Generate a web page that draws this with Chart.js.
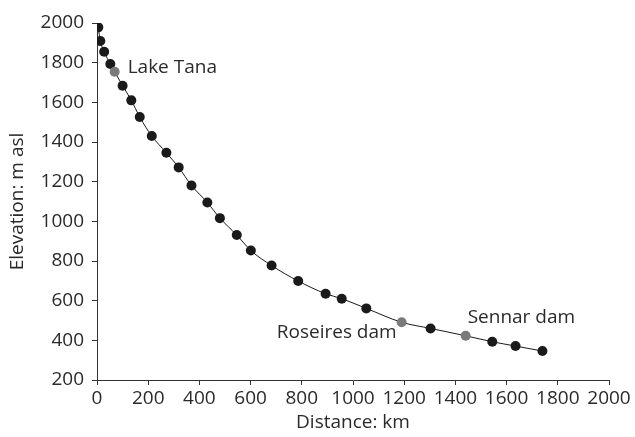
<!DOCTYPE html>
<html>
<head>
<meta charset="utf-8">
<script src="https://cdn.jsdelivr.net/npm/chart.js@4"></script>
<style>
    html, body { margin: 0; padding: 0; background: #fff; }
    #wrap { width: 635px; height: 437px; }
</style>
</head>
<body>
<div id="wrap"><canvas id="myChart"></canvas></div>
<script>
// distance along the river (km) and elevation (m asl)
const distance = [5, 13, 28, 52, 69, 100, 134, 167, 214, 271, 319, 369, 431, 480, 546, 601, 682, 786, 893, 956, 1052, 1190, 1303, 1440, 1544, 1635, 1740];
const elevation = [1978, 1909, 1855, 1793, 1754, 1684, 1610, 1526, 1430, 1346, 1272, 1181, 1095, 1016, 931, 853, 777, 699, 635, 610, 561, 491, 460, 423, 393, 371, 346];

// named points (shown grey) and their labels
const placeIndex = [4, 21, 23];
const placeNames = ['Lake Tana', 'Roseires dam', 'Sennar dam'];

const xTicks = [0, 200, 400, 600, 800, 1000, 1200, 1400, 1600, 1800, 2000];
const yTicks = [200, 400, 600, 800, 1000, 1200, 1400, 1600, 1800, 2000];

const textColor = '#2a2a2a';
const fontFamily = '"Open Sans", "DejaVu Sans", sans-serif';
const fontSize = 19;

const points = distance.map((d, i) => ({ x: d, y: elevation[i] }));
const pointColors = distance.map((d, i) => placeIndex.includes(i) ? '#7a7a7a' : '#1a1a1a');

// label placement relative to the point: dx, dy, alignment
const labelPlace = [
    { dx: 13, dy: -4, align: 'left' },
    { dx: -5, dy: 10, align: 'right' },
    { dx: 2, dy: -18, align: 'left' }
];

const placeLabels = {
    id: 'placeLabels',
    afterDatasetsDraw(chart) {
        const ctx = chart.ctx;
        const xs = chart.scales.x, ys = chart.scales.y;
        ctx.save();
        ctx.font = fontSize + 'px ' + fontFamily;
        ctx.fillStyle = textColor;
        ctx.textBaseline = 'middle';
        placeIndex.forEach((idx, k) => {
            const px = xs.getPixelForValue(distance[idx]);
            const py = ys.getPixelForValue(elevation[idx]);
            ctx.textAlign = labelPlace[k].align;
            ctx.fillText(placeNames[k], px + labelPlace[k].dx, py + labelPlace[k].dy);
        });
        ctx.restore();
    }
};

const config = {
    type: 'scatter',
    data: {
        datasets: [{
            data: points,
            showLine: true,
            borderColor: '#1a1a1a',
            borderWidth: 1,
            tension: 0.4,
            cubicInterpolationMode: 'monotone',
            pointRadius: 5,
            pointHoverRadius: 5,
            pointBackgroundColor: pointColors,
            pointBorderColor: pointColors,
            pointBorderWidth: 0
        }]
    },
    options: {
        responsive: true,
        maintainAspectRatio: false,
        animation: false,
        devicePixelRatio: 1,
        layout: { padding: { left: 0, right: 26, top: 23, bottom: 0 } },
        plugins: { legend: { display: false }, tooltip: { enabled: false } },
        scales: {
            x: {
                type: 'linear',
                min: 0,
                max: 2000,
                afterBuildTicks: (axis) => { axis.ticks = xTicks.map(v => ({ value: v })); },
                afterFit: (axis) => { axis.height = 57; },
                grid: { display: true, drawOnChartArea: false, drawTicks: true, tickLength: 5, color: '#333' },
                border: { display: true, color: '#333', width: 1 },
                ticks: { color: textColor, font: { family: fontFamily, size: fontSize }, padding: 2, maxRotation: 0,
                         callback: (v) => String(v) },
                title: { display: true, text: 'Distance: km', color: textColor, font: { family: fontFamily, size: fontSize }, padding: { top: 0, bottom: 3 } }
            },
            y: {
                type: 'linear',
                min: 200,
                max: 2000,
                afterBuildTicks: (axis) => { axis.ticks = yTicks.map(v => ({ value: v })); },
                afterFit: (axis) => { axis.width = 97; },
                grid: { display: true, drawOnChartArea: false, drawTicks: true, tickLength: 5, color: '#333' },
                border: { display: true, color: '#333', width: 1 },
                ticks: { color: textColor, font: { family: fontFamily, size: fontSize }, padding: 8,
                         callback: (v) => String(v) },
                title: { display: true, text: 'Elevation: m asl', color: textColor, font: { family: fontFamily, size: fontSize }, padding: { top: 6, bottom: 4 } }
            }
        }
    },
    plugins: [placeLabels]
};

const myChart = new Chart(document.getElementById('myChart'), config);
</script>
</body>
</html>
